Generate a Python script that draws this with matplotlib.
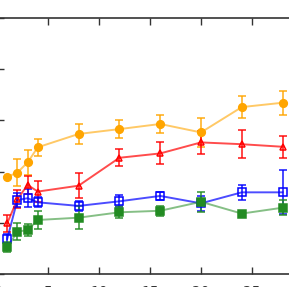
import numpy as np
import matplotlib
matplotlib.use("Agg")
import matplotlib.pyplot as plt

# x positions shared by all series
steps = [1, 2, 3, 4, 8, 12, 16, 20, 24, 28]

# series values and error bar half-widths
orange_y = [0.380, 0.396, 0.436, 0.495, 0.547, 0.566, 0.586, 0.553, 0.652, 0.669]
orange_err = [0.0, 0.052, 0.050, 0.033, 0.040, 0.034, 0.034, 0.055, 0.042, 0.046]

red_y = [0.198, 0.292, 0.348, 0.322, 0.345, 0.454, 0.471, 0.514, 0.507, 0.497]
red_err = [0.033, 0.036, 0.036, 0.040, 0.049, 0.033, 0.043, 0.045, 0.055, 0.043]

blue_y = [0.137, 0.289, 0.296, 0.280, 0.266, 0.284, 0.305, 0.276, 0.319, 0.319]
blue_err = [0.020, 0.026, 0.036, 0.020, 0.018, 0.023, 0.015, 0.028, 0.028, 0.086]

green_y = [0.104, 0.165, 0.172, 0.211, 0.220, 0.241, 0.247, 0.282, 0.236, 0.259]
green_err = [0.020, 0.033, 0.023, 0.037, 0.044, 0.023, 0.020, 0.039, 0.010, 0.029]

W, H = 289, 287
fig = plt.figure(figsize=(W / 100, H / 100), dpi=100)
# the reference is a crop: left spine just off the left edge, right side cut off
ax = fig.add_axes([-3 / W, 13 / H, 306 / W, 256 / H])


def draw(y, err, color, marker, line_alpha, mfc, ms):
    ax.errorbar(steps, y, yerr=err, fmt="none", ecolor=color, elinewidth=1.2,
                capsize=3, capthick=1.2, alpha=0.85, zorder=2)
    ax.plot(steps, y, color=color, lw=1.4, alpha=line_alpha, zorder=3)
    ax.plot(steps, y, linestyle="none", marker=marker, color=color,
            markerfacecolor=mfc, markeredgecolor=color, markersize=ms,
            markeredgewidth=1.1, zorder=4)


draw(orange_y, orange_err, "orange", "o", 0.6, "orange", 5.5)
draw(red_y, red_err, "red", "^", 0.7, "none", 5)
draw(blue_y, blue_err, "blue", "s", 0.7, "none", 5.5)
draw(green_y, green_err, "forestgreen", "s", 0.55, "forestgreen", 5.5)

ax.set_xlim(0, 30)
ax.set_ylim(0, 1.0)
ax.set_xticks(np.arange(0, 31, 5))
ax.set_yticks(np.arange(0, 1.01, 0.2))
ax.tick_params(direction="in", length=5, width=1, top=True, right=True,
               colors="#333333", labelsize=10, pad=8)
for sp in ax.spines.values():
    sp.set_color("#333333")
    sp.set_linewidth(1.2)

fig.savefig("out.png", dpi=100)
